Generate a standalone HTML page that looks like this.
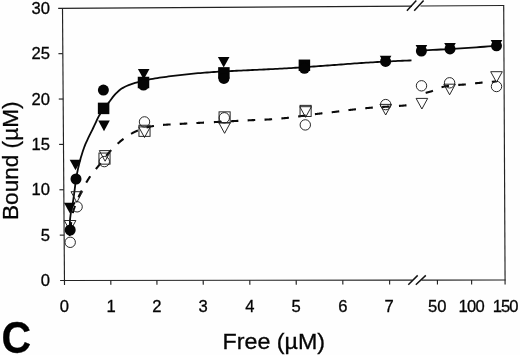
<!DOCTYPE html>
<html><head><meta charset="utf-8"><title>Figure C</title>
<style>
html,body{margin:0;padding:0;background:#fff;}
body{width:520px;height:355px;overflow:hidden;}
svg{display:block;}
text{font-family:"Liberation Sans",Arial,Helvetica,sans-serif;fill:#050505;stroke:#050505;stroke-width:0.3px;}
.tk{font-size:16.6px;}
.ax{font-size:22px;}
.big{font-size:44.5px;font-weight:bold;fill:#000;}
</style></head>
<body>
<svg width="520" height="355" viewBox="0 0 520 355">
<rect width="520" height="355" fill="#fefefe"/>
<line x1="58.20" y1="8.33" x2="412.00" y2="6.08" stroke="#222" stroke-width="1.15" />
<line x1="420.50" y1="6.03" x2="504.20" y2="5.50" stroke="#222" stroke-width="1.15" />
<line x1="503.70" y1="5.50" x2="505.10" y2="284.50" stroke="#222" stroke-width="1.15" />
<line x1="60.10" y1="280.50" x2="412.50" y2="280.11" stroke="#222" stroke-width="1.15" />
<line x1="421.50" y1="280.09" x2="505.60" y2="280.00" stroke="#222" stroke-width="1.15" />
<line x1="62.50" y1="8.30" x2="64.50" y2="284.90" stroke="#222" stroke-width="1.15" />
<line x1="406.90" y1="10.80" x2="416.30" y2="0.50" stroke="#111" stroke-width="1.5" />
<line x1="414.20" y1="10.80" x2="423.60" y2="0.50" stroke="#111" stroke-width="1.5" />
<line x1="408.30" y1="284.80" x2="417.70" y2="275.40" stroke="#111" stroke-width="1.5" />
<line x1="415.80" y1="284.80" x2="425.80" y2="275.40" stroke="#111" stroke-width="1.5" />
<text x="49.9" y="286.10" text-anchor="end" class="tk">0</text>
<line x1="59.77" y1="235.13" x2="64.17" y2="235.13" stroke="#222" stroke-width="1.15" />
<text x="49.9" y="240.73" text-anchor="end" class="tk">5</text>
<line x1="59.43" y1="189.77" x2="63.83" y2="189.77" stroke="#222" stroke-width="1.15" />
<text x="49.9" y="195.37" text-anchor="end" class="tk">10</text>
<line x1="59.10" y1="144.40" x2="63.50" y2="144.40" stroke="#222" stroke-width="1.15" />
<text x="49.9" y="150.00" text-anchor="end" class="tk">15</text>
<line x1="58.77" y1="99.03" x2="63.17" y2="99.03" stroke="#222" stroke-width="1.15" />
<text x="49.9" y="104.63" text-anchor="end" class="tk">20</text>
<line x1="58.43" y1="53.67" x2="62.83" y2="53.67" stroke="#222" stroke-width="1.15" />
<text x="49.9" y="59.27" text-anchor="end" class="tk">25</text>
<text x="49.9" y="13.90" text-anchor="end" class="tk">30</text>
<text x="64.3" y="311.8" text-anchor="middle" class="tk">0</text>
<line x1="110.80" y1="280.45" x2="110.85" y2="284.85" stroke="#222" stroke-width="1.15" />
<text x="111.0" y="311.8" text-anchor="middle" class="tk">1</text>
<line x1="156.90" y1="280.40" x2="156.95" y2="284.80" stroke="#222" stroke-width="1.15" />
<text x="156.8" y="311.8" text-anchor="middle" class="tk">2</text>
<line x1="203.20" y1="280.34" x2="203.25" y2="284.74" stroke="#222" stroke-width="1.15" />
<text x="203.2" y="311.8" text-anchor="middle" class="tk">3</text>
<line x1="249.80" y1="280.29" x2="249.85" y2="284.69" stroke="#222" stroke-width="1.15" />
<text x="249.8" y="311.8" text-anchor="middle" class="tk">4</text>
<line x1="296.20" y1="280.24" x2="296.25" y2="284.64" stroke="#222" stroke-width="1.15" />
<text x="296.2" y="311.8" text-anchor="middle" class="tk">5</text>
<line x1="342.80" y1="280.18" x2="342.85" y2="284.58" stroke="#222" stroke-width="1.15" />
<text x="342.8" y="311.8" text-anchor="middle" class="tk">6</text>
<line x1="389.60" y1="280.13" x2="389.65" y2="284.53" stroke="#222" stroke-width="1.15" />
<text x="389.2" y="311.8" text-anchor="middle" class="tk">7</text>
<line x1="437.40" y1="280.08" x2="437.45" y2="284.48" stroke="#222" stroke-width="1.15" />
<text x="437.3" y="311.8" text-anchor="middle" class="tk">50</text>
<line x1="471.60" y1="280.04" x2="471.65" y2="284.44" stroke="#222" stroke-width="1.15" />
<text x="471.6" y="311.8" text-anchor="middle" class="tk" textLength="26.3">100</text>
<text x="505.6" y="311.8" text-anchor="middle" class="tk" textLength="25.8">150</text>
<path d="M69.70,236.00 L69.71,233.72 L69.72,231.44 L69.75,229.16 L69.79,226.89 L69.84,224.62 L69.89,222.35 L70.00,220.08 L70.21,217.81 L70.49,215.55 L70.81,213.29 L71.15,211.05 L71.59,208.81 L72.08,206.59 L72.55,204.36 L72.93,202.12 L73.28,199.87 L73.60,197.62 L73.91,195.36 L74.22,193.11 L74.52,190.85 L74.81,188.59 L75.08,186.33 L75.35,184.07 L75.64,181.82 L75.97,179.57 L76.33,177.32 L76.73,175.08 L77.17,172.84 L77.63,170.61 L78.11,168.39 L78.62,166.18 L79.16,163.97 L79.73,161.76 L80.32,159.55 L80.94,157.36 L81.59,155.17 L82.27,152.99 L82.97,150.83 L83.70,148.68 L84.47,146.55 L85.31,144.44 L86.22,142.36 L87.19,140.29 L88.17,138.23 L89.14,136.17 L90.14,134.13 L91.15,132.09 L92.18,130.06 L93.19,128.02 L94.17,125.96 L95.13,123.89 L96.08,121.81 L97.05,119.74 L98.05,117.70 L99.11,115.70 L100.26,113.76 L101.52,111.87 L102.87,110.03 L104.24,108.21 L105.64,106.41 L107.07,104.64 L108.51,102.88 L109.90,101.07 L111.23,99.22 L112.57,97.37 L114.00,95.61 L115.53,93.94 L117.15,92.29 L118.84,90.74 L120.62,89.34 L122.49,88.11 L124.49,87.00 L126.56,86.00 L128.65,85.12 L130.77,84.32 L132.93,83.59 L135.12,82.92 L137.31,82.29 L139.50,81.69 L141.71,81.13 L143.92,80.59 L146.14,80.08 L148.37,79.61 L150.60,79.19 L152.84,78.79 L155.08,78.42 L157.33,78.06 L159.58,77.72 L161.84,77.40 L164.09,77.08 L166.35,76.78 L168.61,76.48 L170.86,76.19 L173.12,75.90 L175.38,75.62 L177.64,75.34 L179.90,75.07 L182.16,74.81 L184.42,74.56 L186.68,74.31 L188.94,74.07 L191.21,73.85 L193.47,73.63 L195.74,73.42 L198.00,73.22 L200.27,73.03 L202.54,72.84 L204.81,72.66 L207.08,72.48 L209.35,72.32 L211.62,72.15 L213.89,72.00 L216.16,71.85 L218.43,71.71 L220.70,71.58 L222.97,71.45 L225.24,71.33 L227.52,71.22 L229.79,71.10 L232.06,70.99 L234.33,70.87 L236.61,70.76 L238.88,70.65 L241.15,70.55 L243.43,70.44 L245.70,70.34 L247.97,70.23 L250.25,70.13 L252.52,70.02 L254.79,69.92 L257.07,69.81 L259.34,69.71 L261.61,69.60 L263.88,69.49 L266.16,69.38 L268.43,69.27 L270.70,69.16 L272.98,69.05 L275.25,68.93 L277.52,68.81 L279.79,68.69 L282.06,68.57 L284.34,68.44 L286.61,68.31 L288.88,68.17 L291.15,68.03 L293.42,67.89 L295.69,67.74 L297.96,67.59 L300.23,67.44 L302.50,67.29 L304.77,67.13 L307.04,66.97 L309.31,66.81 L311.58,66.65 L313.85,66.49 L316.12,66.33 L318.39,66.17 L320.66,66.01 L322.93,65.85 L325.20,65.69 L327.47,65.52 L329.74,65.36 L332.01,65.19 L334.28,65.02 L336.55,64.84 L338.82,64.67 L341.09,64.49 L343.35,64.32 L345.62,64.14 L347.89,63.97 L350.16,63.80 L352.43,63.63 L354.70,63.46 L356.97,63.30 L359.24,63.14 L361.51,62.99 L363.78,62.84 L366.05,62.70 L368.32,62.56 L370.59,62.42 L372.86,62.29 L375.13,62.16 L377.41,62.02 L379.68,61.90 L381.95,61.77 L384.22,61.65 L386.50,61.52 L388.77,61.40 L391.04,61.29 L393.31,61.17 L395.59,61.06 L397.86,60.96 L400.13,60.85 L402.41,60.75 L404.68,60.65 L406.95,60.56 L409.23,60.48 L411.50,60.40" fill="none" stroke="#0a0a0a" stroke-width="1.8"/>
<path d="M421.00,50.60 L424.95,50.39 L428.90,50.18 L432.85,49.97 L436.80,49.75 L440.75,49.52 L444.70,49.29 L448.64,49.06 L452.59,48.82 L456.54,48.57 L460.49,48.33 L464.43,48.07 L468.38,47.82 L472.33,47.56 L476.27,47.29 L480.22,47.02 L484.16,46.75 L488.11,46.47 L492.06,46.19 L496.00,45.90" fill="none" stroke="#0a0a0a" stroke-width="1.8"/>
<path d="M70.30,234.00 L70.31,233.60 L70.33,233.19 L70.34,232.79 L70.36,232.39 L70.38,231.98 L70.40,231.58 L70.42,231.18 L70.44,230.77 L70.47,230.37 L70.49,229.97 L70.52,229.57 L70.55,229.16 L70.58,228.76 L70.61,228.36 L70.64,227.96 L70.67,227.55 L70.70,227.15 L70.74,226.75 L70.77,226.35 L70.80,225.95 L70.84,225.54 L70.88,225.14 L70.92,224.74 L70.96,224.34 L71.00,223.94 L71.05,223.54 L71.09,223.14 L71.14,222.74 L71.19,222.33 L71.24,221.93 L71.30,221.53 L71.35,221.13 L71.41,220.74 L71.47,220.34 L71.53,219.94 L71.59,219.54 L71.65,219.14 L71.71,218.74 L71.78,218.34 L71.85,217.94 L71.92,217.55 L71.99,217.15 L72.06,216.75 L72.13,216.36 L72.21,215.96 L72.28,215.56 L72.36,215.17 L72.44,214.77 L72.52,214.38 L72.60,213.98 L72.68,213.59 L72.77,213.19 L72.85,212.80 L72.94,212.40 L73.03,212.01 L73.12,211.62 L73.22,211.22 L73.32,210.83 L73.43,210.45 L73.55,210.06 L73.68,209.68 L73.80,209.29 L73.94,208.91 L74.07,208.53 L74.21,208.15 L74.35,207.77 L74.48,207.39 L74.62,207.01 L74.76,206.64 L74.90,206.26 L75.04,205.88 L75.17,205.50 L75.32,205.12 L75.46,204.74 L75.60,204.36 L75.74,203.99 L75.89,203.61 L76.03,203.23 L76.18,202.86 L76.33,202.48 L76.48,202.11 L76.63,201.73 L76.78,201.36 L76.93,200.98 L77.08,200.61 L77.24,200.24 L77.39,199.87 L77.55,199.49 L77.70,199.12 L77.86,198.75 L78.02,198.38 L78.18,198.01 L78.34,197.64 L78.51,197.27 L78.67,196.90 L78.83,196.53 L79.00,196.16 L79.17,195.80 L79.33,195.43 L79.50,195.06 L79.67,194.70 L79.84,194.33 L80.02,193.97 L80.19,193.60 L80.36,193.24 L80.54,192.88 L80.72,192.51 L80.90,192.15 L81.08,191.79 L81.27,191.43 L81.45,191.07 L81.64,190.72 L81.82,190.36 L82.01,190.00 L82.20,189.65 L82.39,189.29 L82.59,188.94 L82.78,188.58 L82.97,188.23 L83.17,187.88 L83.37,187.52 L83.56,187.17 L83.76,186.82 L83.96,186.47 L84.16,186.12 L84.36,185.77 L84.56,185.42 L84.77,185.07 L84.97,184.72 L85.17,184.37 L85.38,184.02 L85.58,183.68 L85.79,183.33 L85.99,182.98 L86.20,182.64 L86.41,182.29 L86.61,181.94 L86.82,181.60 L87.03,181.25 L87.24,180.91 L87.46,180.57 L87.67,180.22 L87.88,179.88 L88.10,179.54 L88.32,179.20 L88.54,178.86 L88.76,178.52 L88.98,178.19 L89.20,177.85 L89.43,177.52 L89.66,177.18 L89.89,176.85 L90.12,176.52 L90.35,176.19 L90.58,175.86 L90.82,175.54 L91.06,175.21 L91.30,174.89 L91.55,174.57 L91.79,174.24 L92.04,173.93 L92.28,173.61 L92.53,173.29 L92.78,172.97 L93.03,172.66 L93.29,172.34 L93.54,172.03 L93.79,171.71 L94.05,171.40 L94.30,171.08 L94.55,170.77 L94.81,170.46 L95.06,170.14 L95.31,169.83 L95.57,169.51 L95.82,169.20 L96.07,168.89 L96.32,168.57 L96.58,168.25 L96.83,167.94 L97.08,167.62 L97.33,167.31 L97.59,167.00 L97.84,166.68 L98.10,166.37 L98.35,166.06 L98.60,165.74 L98.86,165.43 L99.11,165.11 L99.36,164.80 L99.61,164.48 L99.86,164.17 L100.11,163.85 L100.36,163.53 L100.61,163.21 L100.86,162.89 L101.10,162.57 L101.35,162.25 L101.59,161.93 L101.83,161.61 L102.08,161.29 L102.32,160.96 L102.56,160.64 L102.81,160.32 L103.05,160.00 L103.29,159.67 L103.53,159.35 L103.78,159.03 L104.02,158.71 L104.26,158.38 L104.51,158.06 L104.75,157.74 L104.99,157.42 L105.24,157.10 L105.49,156.78 L105.73,156.46 L105.98,156.14 L106.23,155.83 L106.48,155.51 L106.73,155.20 L106.99,154.88 L107.24,154.57 L107.50,154.26 L107.76,153.95 L108.02,153.64 L108.28,153.33 L108.54,153.02 L108.81,152.72 L109.07,152.42 L109.34,152.12 L109.61,151.82 L109.88,151.52 L110.15,151.22 L110.43,150.92 L110.70,150.62 L110.97,150.33 L111.25,150.03 L111.53,149.74 L111.80,149.45 L112.08,149.15 L112.36,148.86 L112.64,148.57 L112.92,148.28 L113.21,148.00 L113.49,147.71 L113.78,147.42 L114.06,147.14 L114.35,146.85 L114.64,146.57 L114.92,146.29 L115.21,146.01 L115.50,145.73 L115.80,145.45 L116.09,145.17 L116.38,144.90 L116.68,144.62 L116.97,144.35 L117.27,144.07 L117.57,143.80 L117.87,143.53 L118.17,143.26 L118.47,142.99 L118.77,142.72 L119.08,142.46 L119.38,142.20 L119.69,141.93 L120.00,141.67 L120.31,141.42 L120.62,141.16 L120.94,140.91 L121.25,140.66 L121.57,140.41 L121.89,140.16 L122.21,139.92 L122.53,139.67 L122.85,139.43 L123.18,139.19 L123.50,138.95 L123.83,138.71 L124.15,138.47 L124.48,138.24 L124.81,138.00 L125.13,137.76 L125.46,137.53 L125.79,137.29 L126.12,137.06 L126.45,136.82 L126.78,136.59 L127.11,136.36 L127.44,136.13 L127.78,135.91 L128.11,135.68 L128.45,135.46 L128.78,135.24 L129.12,135.02 L129.46,134.80 L129.81,134.59 L130.15,134.37 L130.49,134.17 L130.84,133.96 L131.19,133.76 L131.54,133.56 L131.89,133.36 L132.25,133.17 L132.60,132.97 L132.96,132.79 L133.32,132.60 L133.68,132.42 L134.04,132.23 L134.40,132.06 L134.76,131.88 L135.13,131.71 L135.49,131.54 L135.86,131.37 L136.23,131.20 L136.60,131.04 L136.97,130.88 L137.34,130.72 L137.71,130.57 L138.09,130.42 L138.46,130.28 L138.84,130.13 L139.22,129.99 L139.59,129.84 L139.97,129.70 L140.35,129.56 L140.73,129.42 L141.11,129.29 L141.49,129.15 L141.87,129.02 L142.25,128.88 L142.63,128.75 L143.01,128.62 L143.40,128.49 L143.78,128.37 L144.16,128.24 L144.55,128.12 L144.93,128.00 L145.32,127.88 L145.71,127.76 L146.09,127.65 L146.48,127.54 L146.87,127.43 L147.26,127.32 L147.65,127.22 L148.04,127.12 L148.43,127.02 L148.82,126.92 L149.22,126.83 L149.61,126.74 L150.00,126.66 L150.40,126.57 L150.79,126.49 L151.19,126.41 L151.59,126.34 L151.98,126.26 L152.38,126.19 L152.78,126.12 L153.18,126.06 L153.57,125.99 L153.97,125.93 L154.37,125.87 L154.77,125.82 L155.17,125.76 L155.57,125.71 L155.97,125.66 L156.37,125.61 L156.77,125.56 L157.17,125.51 L157.57,125.46 L157.97,125.41 L158.38,125.37 L158.78,125.32 L159.18,125.28 L159.58,125.23 L159.98,125.19 L160.38,125.15 L160.78,125.11 L161.18,125.07 L161.59,125.04 L161.99,125.00 L162.39,124.97 L162.79,124.93 L163.20,124.90 L163.60,124.87 L164.00,124.84 L164.40,124.81 L164.80,124.78 L165.21,124.75 L165.61,124.72 L166.01,124.69 L166.41,124.67 L166.82,124.64 L167.22,124.61 L167.62,124.59 L168.03,124.56 L168.43,124.54 L168.83,124.51 L169.23,124.49 L169.64,124.46 L170.04,124.44 L170.44,124.42 L170.85,124.39 L171.25,124.37 L171.65,124.35 L172.05,124.33 L172.46,124.30 L172.86,124.28 L173.26,124.26 L173.67,124.24 L174.07,124.22 L174.47,124.20 L174.88,124.18 L175.28,124.15 L175.68,124.13 L176.08,124.11 L176.49,124.09 L176.89,124.07 L177.29,124.05 L177.70,124.03 L178.10,124.00 L178.50,123.98 L178.91,123.96 L179.31,123.94 L179.71,123.92 L180.11,123.89 L180.52,123.87 L180.92,123.85 L181.32,123.83 L181.73,123.80 L182.13,123.78 L182.53,123.76 L182.93,123.74 L183.34,123.71 L183.74,123.69 L184.14,123.67 L184.55,123.65 L184.95,123.63 L185.35,123.60 L185.76,123.58 L186.16,123.56 L186.56,123.54 L186.96,123.52 L187.37,123.49 L187.77,123.47 L188.17,123.45 L188.58,123.43 L188.98,123.41 L189.38,123.39 L189.79,123.36 L190.19,123.34 L190.59,123.32 L190.99,123.30 L191.40,123.28 L191.80,123.26 L192.20,123.24 L192.61,123.22 L193.01,123.19 L193.41,123.17 L193.81,123.15 L194.22,123.13 L194.62,123.11 L195.02,123.09 L195.43,123.07 L195.83,123.05 L196.23,123.03 L196.64,123.00 L197.04,122.98 L197.44,122.96 L197.85,122.94 L198.25,122.92 L198.65,122.90 L199.05,122.88 L199.46,122.86 L199.86,122.84 L200.26,122.82 L200.67,122.80 L201.07,122.77 L201.47,122.75 L201.88,122.73 L202.28,122.71 L202.68,122.69 L203.08,122.67 L203.49,122.65 L203.89,122.63 L204.29,122.61 L204.70,122.59 L205.10,122.57 L205.50,122.55 L205.91,122.53 L206.31,122.51 L206.71,122.49 L207.11,122.47 L207.52,122.44 L207.92,122.42 L208.32,122.40 L208.73,122.38 L209.13,122.36 L209.53,122.34" fill="none" stroke="#0a0a0a" stroke-width="2.1" stroke-dasharray="7.6 9.12" stroke-dashoffset="12.40"/>
<path d="M209.53,122.34 L209.93,122.32 L210.32,122.30 L210.72,122.28 L211.12,122.26 L211.51,122.24 L211.91,122.22 L212.30,122.20 L212.70,122.18 L213.10,122.16 L213.49,122.14 L213.89,122.12 L214.28,122.10 L214.68,122.08 L215.08,122.06 L215.47,122.04 L215.87,122.02 L216.26,122.00 L216.66,121.98 L217.05,121.96 L217.45,121.94 L217.85,121.92 L218.24,121.90 L218.64,121.88 L219.03,121.86 L219.43,121.84 L219.83,121.82 L220.22,121.80 L220.62,121.78 L221.01,121.75 L221.41,121.73 L221.81,121.71 L222.20,121.69 L222.60,121.67 L222.99,121.65 L223.39,121.63 L223.79,121.61 L224.18,121.59 L224.58,121.57 L224.97,121.55 L225.37,121.53 L225.76,121.51 L226.16,121.49 L226.56,121.47 L226.95,121.44 L227.35,121.42 L227.74,121.40 L228.14,121.38 L228.54,121.36 L228.93,121.34 L229.33,121.32 L229.72,121.30 L230.12,121.28 L230.51,121.25 L230.91,121.23 L231.31,121.21 L231.70,121.19 L232.10,121.17 L232.49,121.15 L232.89,121.13 L233.29,121.11 L233.68,121.08 L234.08,121.06 L234.47,121.04 L234.87,121.02 L235.26,121.00 L235.66,120.98 L236.06,120.96 L236.45,120.94 L236.85,120.91 L237.24,120.89 L237.64,120.87 L238.04,120.85 L238.43,120.83 L238.83,120.81 L239.22,120.79 L239.62,120.77 L240.02,120.75 L240.41,120.73 L240.81,120.70 L241.20,120.68 L241.60,120.66 L241.99,120.64 L242.39,120.62 L242.79,120.60 L243.18,120.58 L243.58,120.56 L243.97,120.54 L244.37,120.52 L244.77,120.50 L245.16,120.48 L245.56,120.46 L245.95,120.44 L246.35,120.42 L246.75,120.40 L247.14,120.38 L247.54,120.36 L247.93,120.34 L248.33,120.33 L248.73,120.31 L249.12,120.29 L249.52,120.27 L249.91,120.25 L250.31,120.23 L250.71,120.21 L251.10,120.20 L251.50,120.18 L251.89,120.16 L252.29,120.14 L252.69,120.13 L253.08,120.11 L253.48,120.09 L253.87,120.08 L254.27,120.06 L254.67,120.05 L255.06,120.03 L255.46,120.01 L255.85,120.00 L256.25,119.98 L256.65,119.97 L257.04,119.96 L257.44,119.94 L257.83,119.93 L258.23,119.91 L258.63,119.90 L259.02,119.88 L259.42,119.87 L259.82,119.85 L260.21,119.84 L260.61,119.82 L261.00,119.81 L261.40,119.79 L261.80,119.77 L262.19,119.76 L262.59,119.74 L262.98,119.73 L263.38,119.71 L263.78,119.69 L264.17,119.67 L264.57,119.66 L264.96,119.64 L265.36,119.62 L265.76,119.60 L266.15,119.58 L266.55,119.56 L266.94,119.54 L267.34,119.52 L267.74,119.50 L268.13,119.48 L268.53,119.45 L268.92,119.43 L269.32,119.41 L269.71,119.38 L270.11,119.36 L270.51,119.33 L270.90,119.30 L271.30,119.28 L271.69,119.25 L272.09,119.22 L272.48,119.19 L272.88,119.16 L273.27,119.14 L273.67,119.11 L274.06,119.08 L274.46,119.04 L274.85,119.01 L275.25,118.98 L275.64,118.95 L276.04,118.92 L276.44,118.88 L276.83,118.85 L277.23,118.82 L277.62,118.78 L278.02,118.75 L278.41,118.72 L278.80,118.68 L279.20,118.65 L279.59,118.61 L279.99,118.57 L280.38,118.54 L280.78,118.50 L281.17,118.47 L281.57,118.43 L281.96,118.39 L282.36,118.35 L282.75,118.32 L283.15,118.28 L283.54,118.24 L283.94,118.20 L284.33,118.17 L284.73,118.13 L285.12,118.09 L285.51,118.05 L285.91,118.01 L286.30,117.97 L286.70,117.93 L287.09,117.89 L287.49,117.84 L287.88,117.80 L288.27,117.76 L288.67,117.71 L289.06,117.67 L289.46,117.62 L289.85,117.58 L290.24,117.53 L290.64,117.49 L291.03,117.44 L291.42,117.39 L291.82,117.34 L292.21,117.29 L292.60,117.24 L293.00,117.20 L293.39,117.15 L293.78,117.09 L294.18,117.04 L294.57,116.99 L294.96,116.94 L295.36,116.89 L295.75,116.84 L296.14,116.79 L296.54,116.73 L296.93,116.68 L297.32,116.63 L297.71,116.57 L298.11,116.52 L298.50,116.47 L298.89,116.41 L299.28,116.36 L299.68,116.30 L300.07,116.25 L300.46,116.19 L300.85,116.14 L301.25,116.08 L301.64,116.03 L302.03,115.97 L302.42,115.92 L302.82,115.86 L303.21,115.81 L303.60,115.75 L303.99,115.69 L304.39,115.64 L304.78,115.58 L305.17,115.53 L305.56,115.47 L305.96,115.42 L306.35,115.36 L306.74,115.30 L307.13,115.25 L307.53,115.19 L307.92,115.14 L308.31,115.08 L308.71,115.03 L309.10,114.97 L309.49,114.92 L309.88,114.86 L310.28,114.81 L310.67,114.76 L311.06,114.70 L311.45,114.65 L311.85,114.59 L312.24,114.54 L312.63,114.49 L313.03,114.44 L313.42,114.38 L313.81,114.33 L314.20,114.28 L314.60,114.23 L314.99,114.18 L315.38,114.13 L315.78,114.08 L316.17,114.03 L316.56,113.98 L316.96,113.93 L317.35,113.88 L317.74,113.83 L318.14,113.78 L318.53,113.74 L318.92,113.69 L319.32,113.64 L319.71,113.60 L320.11,113.55 L320.50,113.50 L320.89,113.46 L321.29,113.41 L321.68,113.37 L322.07,113.32 L322.47,113.28 L322.86,113.23 L323.26,113.19 L323.65,113.14 L324.04,113.10 L324.44,113.06 L324.83,113.01 L325.23,112.97 L325.62,112.92 L326.01,112.88 L326.41,112.84 L326.80,112.79 L327.20,112.75 L327.59,112.71 L327.98,112.66 L328.38,112.62 L328.77,112.57 L329.17,112.53 L329.56,112.49 L329.95,112.44 L330.35,112.40 L330.74,112.35 L331.14,112.31 L331.53,112.26 L331.92,112.22 L332.32,112.17 L332.71,112.13 L333.10,112.08 L333.50,112.04 L333.89,111.99 L334.29,111.94 L334.68,111.90 L335.07,111.85 L335.47,111.80 L335.86,111.76 L336.25,111.71 L336.65,111.66 L337.04,111.61 L337.43,111.56 L337.83,111.51 L338.22,111.46 L338.61,111.41 L339.01,111.36 L339.40,111.31 L339.79,111.26 L340.19,111.21 L340.58,111.16 L340.97,111.11 L341.37,111.05 L341.76,111.00 L342.15,110.95 L342.54,110.90 L342.94,110.85 L343.33,110.80 L343.72,110.74 L344.12,110.69 L344.51,110.64 L344.90,110.59 L345.30,110.54 L345.69,110.49 L346.08,110.43 L346.47,110.38 L346.87,110.33 L347.26,110.28 L347.65,110.23 L348.05,110.18 L348.44,110.13 L348.83,110.08 L349.23,110.03 L349.62,109.98 L350.01,109.94 L350.41,109.89 L350.80,109.84 L351.20,109.79 L351.59,109.75 L351.98,109.70 L352.38,109.66 L352.77,109.61 L353.16,109.57 L353.56,109.52 L353.95,109.47 L354.35,109.43 L354.74,109.38 L355.13,109.34 L355.53,109.29 L355.92,109.25 L356.31,109.20 L356.71,109.16 L357.10,109.11 L357.50,109.07 L357.89,109.02 L358.28,108.98 L358.68,108.93 L359.07,108.89 L359.47,108.84 L359.86,108.80 L360.25,108.76 L360.65,108.71 L361.04,108.67 L361.44,108.63 L361.83,108.59 L362.22,108.54 L362.62,108.50 L363.01,108.46 L363.41,108.42 L363.80,108.38 L364.20,108.34 L364.59,108.30 L364.98,108.26 L365.38,108.22 L365.77,108.18 L366.17,108.14 L366.56,108.11 L366.96,108.07 L367.35,108.03 L367.75,108.00 L368.14,107.96 L368.54,107.93 L368.93,107.89 L369.33,107.86 L369.72,107.82 L370.12,107.79 L370.51,107.76 L370.91,107.73 L371.30,107.69 L371.70,107.66 L372.09,107.63 L372.49,107.60 L372.88,107.57 L373.28,107.54 L373.67,107.51 L374.07,107.49 L374.46,107.46 L374.86,107.43 L375.26,107.40 L375.65,107.37 L376.05,107.35 L376.44,107.32 L376.84,107.29 L377.23,107.27 L377.63,107.24 L378.02,107.22 L378.42,107.19 L378.82,107.16 L379.21,107.14 L379.61,107.12 L380.00,107.09 L380.40,107.07 L380.79,107.04 L381.19,107.02 L381.58,106.99 L381.98,106.97 L382.38,106.95 L382.77,106.92 L383.17,106.90 L383.56,106.88 L383.96,106.85 L384.35,106.83 L384.75,106.81 L385.15,106.78 L385.54,106.76 L385.94,106.74 L386.33,106.71 L386.73,106.69 L387.13,106.67 L387.52,106.64 L387.92,106.62 L388.31,106.60 L388.71,106.58 L389.10,106.55 L389.50,106.53 L389.90,106.51 L390.29,106.48 L390.69,106.46 L391.08,106.44 L391.48,106.41 L391.87,106.39 L392.27,106.36 L392.67,106.34 L393.06,106.32 L393.46,106.29 L393.85,106.27 L394.25,106.24 L394.64,106.22 L395.04,106.19 L395.43,106.17 L395.83,106.14 L396.23,106.11 L396.62,106.09 L397.02,106.06 L397.41,106.03 L397.81,106.01 L398.20,105.98 L398.60,105.95 L398.99,105.92 L399.39,105.90 L399.79,105.87 L400.18,105.84 L400.58,105.81 L400.97,105.78 L401.37,105.75 L401.76,105.72 L402.16,105.69 L402.55,105.66 L402.95,105.62 L403.34,105.59 L403.74,105.55 L404.13,105.52 L404.53,105.48 L404.92,105.45 L405.32,105.41 L405.71,105.37 L406.11,105.34 L406.50,105.30" fill="none" stroke="#0a0a0a" stroke-width="2.1" stroke-dasharray="7.6 9.30" stroke-dashoffset="12.54"/>
<path d="M421.50,94.00 L422.44,93.78 L423.38,93.56 L424.31,93.32 L425.25,93.08 L426.18,92.82 L427.10,92.56 L428.02,92.29 L428.94,92.02 L429.86,91.73 L430.77,91.44 L431.68,91.14 L432.58,90.80 L433.48,90.43 L434.36,90.04 L435.25,89.64 L436.13,89.23 L437.01,88.83 L437.90,88.45 L438.79,88.08 L439.69,87.74 L440.59,87.45 L441.51,87.20 L442.43,86.98 L443.36,86.77 L444.30,86.58 L445.25,86.39 L446.20,86.22 L447.15,86.05 L448.11,85.90 L449.06,85.76 L450.02,85.63 L450.98,85.51 L451.93,85.41 L452.89,85.31 L453.84,85.23 L454.80,85.16 L455.76,85.09 L456.72,85.02 L457.68,84.96 L458.64,84.91 L459.60,84.85 L460.57,84.79 L461.53,84.73 L462.49,84.66 L463.45,84.59 L464.41,84.52 L465.36,84.43 L466.32,84.34 L467.28,84.24 L468.23,84.13 L469.19,84.02 L470.14,83.91 L471.10,83.79 L472.05,83.67 L473.01,83.56 L473.96,83.44 L474.92,83.33 L475.88,83.22 L476.83,83.12 L477.79,83.02 L478.75,82.93 L479.70,82.84 L480.66,82.75 L481.62,82.66 L482.58,82.57 L483.53,82.49 L484.49,82.40 L485.45,82.32 L486.41,82.23 L487.37,82.15 L488.33,82.07 L489.28,82.00 L490.24,81.92 L491.20,81.85 L492.16,81.77 L493.12,81.70 L494.08,81.63 L495.04,81.57 L496.00,81.50" fill="none" stroke="#0a0a0a" stroke-width="2.1" stroke-dasharray="7.6 9.28" stroke-dashoffset="12.55"/>
<polygon points="64.30,220.50 75.90,220.50 70.10,231.10" fill="none" stroke="#1c1c1c" stroke-width="0.95"/>
<circle cx="70.2" cy="242.3" r="5.2" fill="none" stroke="#1c1c1c" stroke-width="0.95"/>
<polygon points="71.00,191.70 82.60,191.70 76.80,202.30" fill="none" stroke="#1c1c1c" stroke-width="0.95"/>
<circle cx="77.1" cy="206.8" r="5.2" fill="none" stroke="#1c1c1c" stroke-width="0.95"/>
<rect x="98.95" y="153.05" width="11.1" height="11.1" fill="none" stroke="#1c1c1c" stroke-width="0.95"/>
<polygon points="99.30,150.60 110.90,150.60 105.10,161.20" fill="none" stroke="#1c1c1c" stroke-width="0.95"/>
<circle cx="104.3" cy="161.6" r="5.2" fill="none" stroke="#1c1c1c" stroke-width="0.95"/>
<circle cx="144.5" cy="121.9" r="5.2" fill="none" stroke="#1c1c1c" stroke-width="0.95"/>
<rect x="138.95" y="125.25" width="11.1" height="11.1" fill="none" stroke="#1c1c1c" stroke-width="0.95"/>
<polygon points="138.70,126.90 150.30,126.90 144.50,137.50" fill="none" stroke="#1c1c1c" stroke-width="0.95"/>
<rect x="219.05" y="111.85" width="11.1" height="11.1" fill="none" stroke="#1c1c1c" stroke-width="0.95"/>
<circle cx="224.3" cy="117.8" r="5.2" fill="none" stroke="#1c1c1c" stroke-width="0.95"/>
<polygon points="218.80,122.70 230.40,122.70 224.60,133.30" fill="none" stroke="#1c1c1c" stroke-width="0.95"/>
<rect x="300.05" y="105.35" width="11.1" height="11.1" fill="none" stroke="#1c1c1c" stroke-width="0.95"/>
<polygon points="299.80,106.70 311.40,106.70 305.60,117.30" fill="none" stroke="#1c1c1c" stroke-width="0.95"/>
<circle cx="305.3" cy="124.9" r="5.2" fill="none" stroke="#1c1c1c" stroke-width="0.95"/>
<circle cx="385.7" cy="104.6" r="5.2" fill="none" stroke="#1c1c1c" stroke-width="0.95"/>
<polygon points="379.90,104.40 391.50,104.40 385.70,115.00" fill="none" stroke="#1c1c1c" stroke-width="0.95"/>
<circle cx="421.5" cy="85.8" r="5.2" fill="none" stroke="#1c1c1c" stroke-width="0.95"/>
<polygon points="416.10,98.40 427.70,98.40 421.90,109.00" fill="none" stroke="#1c1c1c" stroke-width="0.95"/>
<circle cx="449.6" cy="82.8" r="5.2" fill="none" stroke="#1c1c1c" stroke-width="0.95"/>
<polygon points="443.80,84.20 455.40,84.20 449.60,94.80" fill="none" stroke="#1c1c1c" stroke-width="0.95"/>
<polygon points="490.70,71.70 502.30,71.70 496.50,82.30" fill="none" stroke="#1c1c1c" stroke-width="0.95"/>
<circle cx="496.5" cy="86.5" r="5.2" fill="none" stroke="#1c1c1c" stroke-width="0.95"/>
<polygon points="64.00,202.70 75.60,202.70 69.80,213.30" fill="#050505"/>
<circle cx="70.2" cy="230" r="5.5" fill="#050505"/>
<polygon points="69.70,159.70 81.30,159.70 75.50,170.30" fill="#050505"/>
<circle cx="76" cy="179" r="5.5" fill="#050505"/>
<circle cx="103.4" cy="90.1" r="5.5" fill="#050505"/>
<rect x="97.85" y="102.65" width="11.5" height="11.5" fill="#050505"/>
<polygon points="98.20,120.60 109.80,120.60 104.00,131.20" fill="#050505"/>
<polygon points="137.90,69.00 149.50,69.00 143.70,79.60" fill="#050505"/>
<rect x="137.75" y="76.75" width="11.5" height="11.5" fill="#050505"/>
<circle cx="143.5" cy="85" r="5.5" fill="#050505"/>
<polygon points="217.90,56.90 229.50,56.90 223.70,67.50" fill="#050505"/>
<rect x="218.15" y="67.15" width="11.5" height="11.5" fill="#050505"/>
<circle cx="223.9" cy="78.4" r="5.5" fill="#050505"/>
<rect x="298.65" y="59.55" width="11.5" height="11.5" fill="#050505"/>
<circle cx="304.4" cy="68.3" r="5.5" fill="#050505"/>
<polygon points="379.80,55.70 391.40,55.70 385.60,66.30" fill="#050505"/>
<circle cx="385.6" cy="61.4" r="5.5" fill="#050505"/>
<polygon points="415.60,45.10 427.20,45.10 421.40,55.70" fill="#050505"/>
<circle cx="421.4" cy="51.0" r="5.5" fill="#050505"/>
<polygon points="444.20,43.00 455.80,43.00 450.00,53.60" fill="#050505"/>
<circle cx="450.0" cy="48.9" r="5.5" fill="#050505"/>
<polygon points="490.70,40.10 502.30,40.10 496.50,50.70" fill="#050505"/>
<circle cx="496.5" cy="45.8" r="5.5" fill="#050505"/>
<text x="222.6" y="348.8" class="ax" textLength="102.5" lengthAdjust="spacingAndGlyphs">Free (µM)</text>
<text transform="translate(18.4,220.0) rotate(-90)" class="ax" textLength="118.5" lengthAdjust="spacingAndGlyphs">Bound (µM)</text>
<text x="1.6" y="352.7" class="big" textLength="29.6" lengthAdjust="spacingAndGlyphs">C</text>
</svg>
</body></html>
